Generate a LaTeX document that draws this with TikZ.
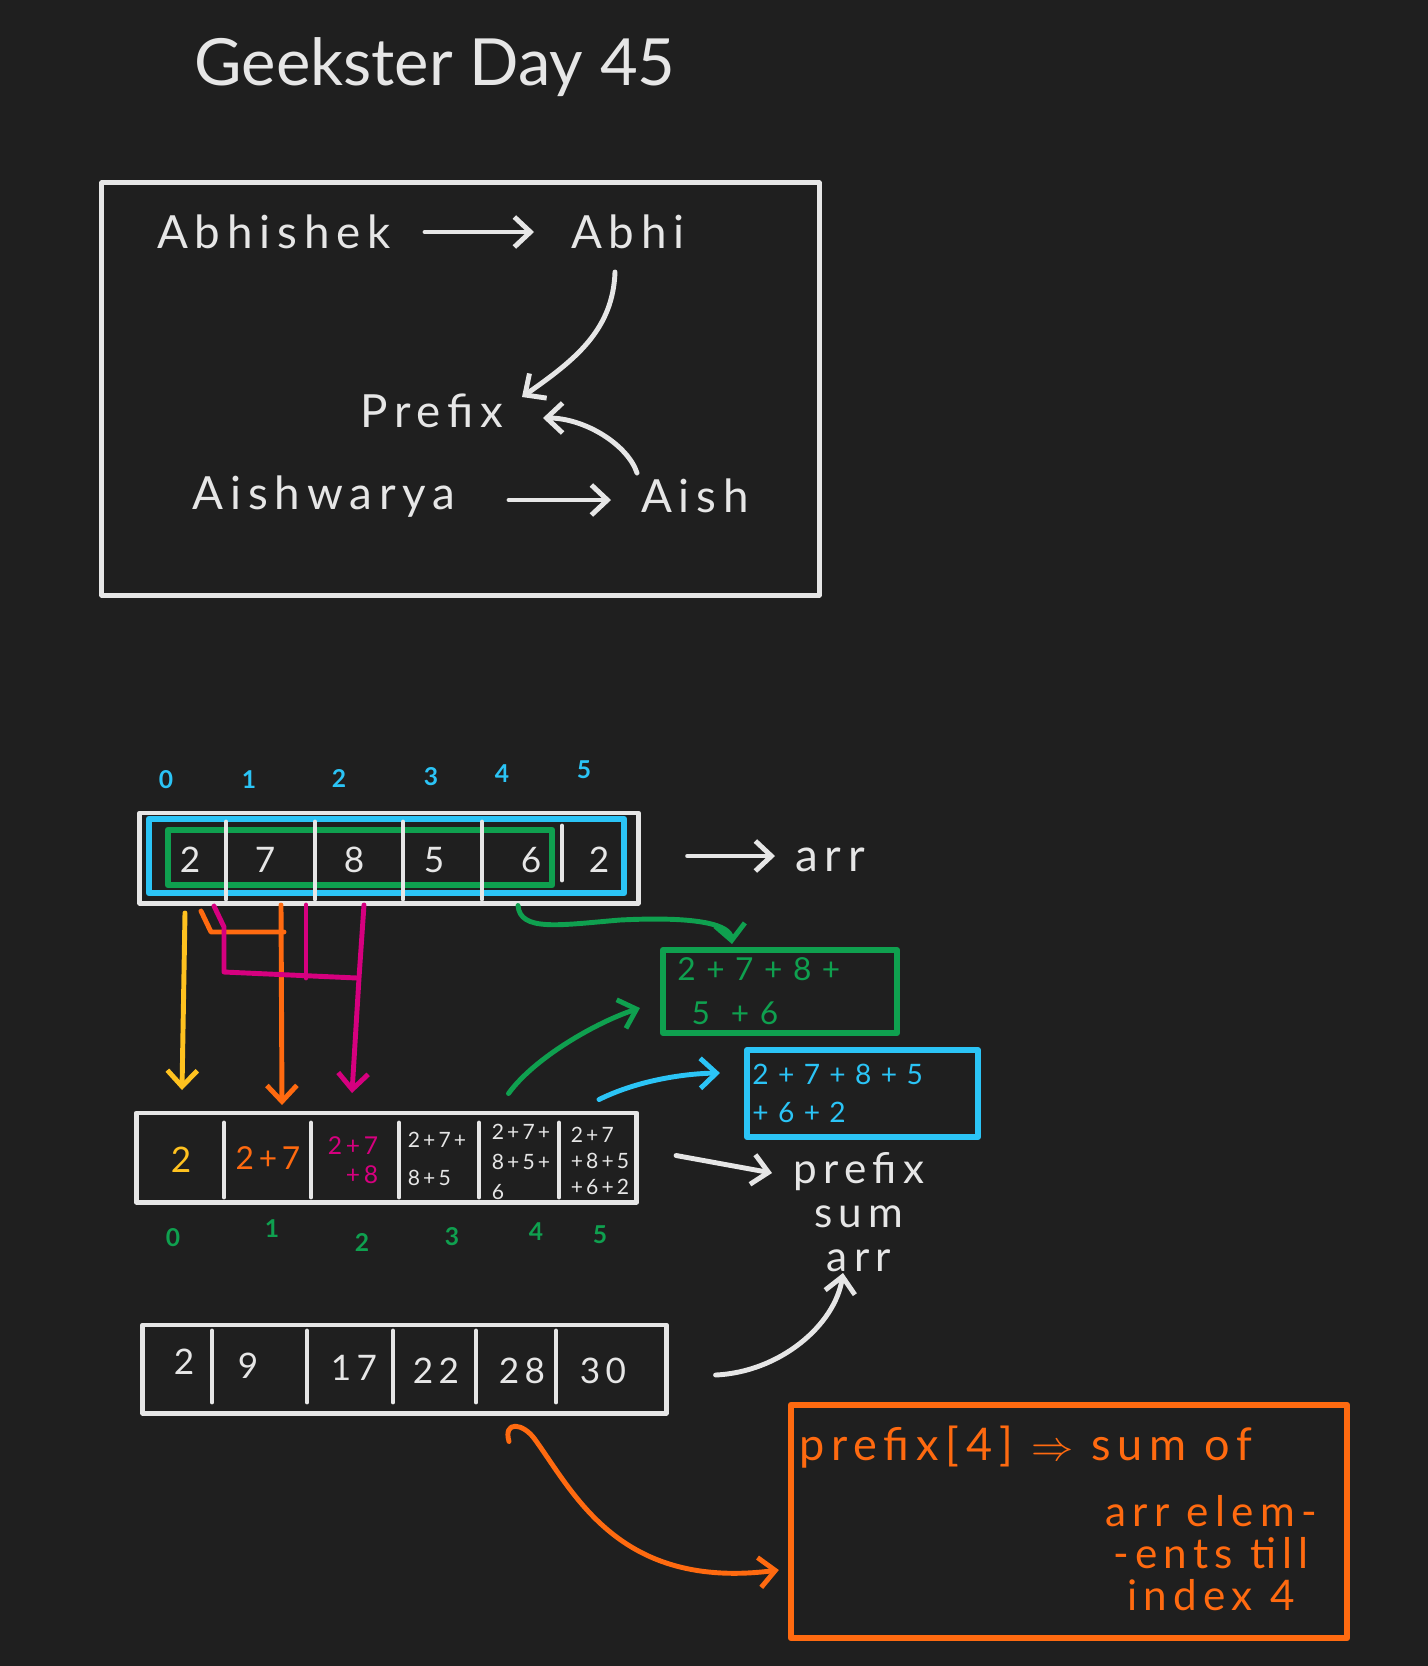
\documentclass[tikz,border=0pt]{standalone}
\usepackage{fontspec}
\setmainfont{Lato}
\newfontfamily\handfont[LetterSpace=15]{Lato}
\usetikzlibrary{arrows.meta,calc}
\definecolor{board}{HTML}{1F1F1F}
\definecolor{chalk}{HTML}{E6E6E6}
\definecolor{sky}{HTML}{2BC4F6}
\definecolor{leaf}{HTML}{0FA04F}
\definecolor{sun}{HTML}{FFC21F}
\definecolor{ember}{HTML}{FF6A10}
\definecolor{berry}{HTML}{D6007F}
\newcommand{\scribble}[2]{\handfont\fontsize{#1}{#2}\selectfont}

\begin{document}
\begin{tikzpicture}[x=0.01cm, y=-0.01cm, line join=round, line cap=round, line width=1.4pt, color=chalk,
	hand/.style={font=\scribble{13}{15}, inner sep=0pt, anchor=base},
	digit/.style={font=\scribble{10}{12}},
	idx/.style={font=\scribble{7}{8}\bfseries},
	small/.style={font=\scribble{6}{#1}, align=left, inner sep=0pt},
	tip/.style={-{Straight Barb[length=1.6mm,width=3mm]}}]
	\fill[board] (0,0) rectangle (1428,1666);
	\useasboundingbox (0,0) rectangle (1428,1666);

	\node[font=\fontsize{18.5}{22}\selectfont, anchor=base] (title) at (435,85) {Geekster Day 45};

	\node[draw, minimum width=7.17cm, minimum height=4.12cm] (names) at (460.5,389) {};
	\node[hand] (abhishek) at (274,248) {Abhishek};
	\node[hand] (abhi) at (628,248) {Abhi};
	\node[hand] (prefix) at (432,427) {Prefix};
	\node[hand] (aishwarya) at (324,509) {Aishwarya};
	\node[hand] (aish) at (695,512) {Aish};
	\draw[tip] ($(abhishek.base)+(151,-16)$) -- ($(abhi.base)+(-94,-16)$);
	\draw[tip] ($(aishwarya.base)+(185,-9)$) -- ($(aish.base)+(-84,-12)$);
	\draw[tip] ($(abhi.base)+(-13,24)$) .. controls ($(abhi.base)+(-15,82)$) and ($(prefix.base)+(143,-67)$) .. ($(prefix.base)+(90,-30)$);
	\draw[tip] ($(aish.base)+(-58,-39)$) .. controls ($(aish.base)+(-67,-67)$) and ($(prefix.base)+(153,-9)$) .. ($(prefix.base)+(111,-9)$);

	\node[draw, minimum width=4.98cm, minimum height=0.90cm] (arr) at (389,858) {};
	\node[draw=sky, line width=1.8pt, minimum width=4.75cm, minimum height=0.74cm] (arrall) at (386.5,856) {};
	\node[draw=leaf, line width=1.8pt, minimum width=3.84cm, minimum height=0.55cm] (arrfive) at (360,857.5) {};
	\foreach \x in {226,315,403,482}
	\draw (\x,822) -- (\x,899);
	\draw (562,826) -- (562,880);
	\foreach \v/\x [count=\k from 0] in {2/190,7/265,8/354,5/434,6/531,2/599}
	\node[digit] (a\k) at (\x,860) {\v};
	\foreach \x/\y [count=\k from 0] in {166/780,249/780,339/778,431/777,502/774,584/770}
	\node[idx, sky] (i\k) at (\x,\y) {\k};
	\node[hand] (arrlabel) at (830,871) {arr};
	\draw[tip] ($(arr.east)+(47,-2)$) -- ($(arrlabel.base)+(-55,-15)$);

	\node[draw=leaf, text=leaf, line width=1.7pt, inner xsep=2pt, inner ysep=0pt, minimum width=2.34cm, minimum height=0.83cm, text width=2.05cm, align=left, font=\scribble{9}{12.5}] (sumfive) at (780,991.5) {2 + 7 + 8 +\\\hspace{4pt}5 \ + 6};
	\node[draw=sky, text=sky, line width=1.7pt, inner xsep=1pt, inner ysep=0pt, minimum width=2.31cm, minimum height=0.87cm, text width=2.2cm, align=left, font=\scribble{8}{11}] (sumall) at (862.5,1093.5) {2 + 7 + 8 + 5\\+ 6 + 2};

	\node[draw, minimum width=5.00cm, minimum height=0.89cm] (psum) at (386.5,1157.5) {};
	\foreach \x in {224,311,399,479,559}
	\draw (\x,1123) -- (\x,1197);
	\node[font=\scribble{10}{12}, sun] (p0) at (181,1160) {2};
	\node[font=\scribble{9}{12}, ember] (p1) at (268,1158) {2+7};
	\node[font=\scribble{7}{8.3}, berry, align=right, inner sep=0pt] (p2) at (353,1160) {2+7\\+8};
	\node[small=10.8] (p3) at (437,1159) {2+7+\\8+5};
	\node[small=8.5] (p4) at (521,1162) {2+7+\\8+5+\\6};
	\node[small=7.3] (p5) at (600,1161) {2+7\\+8+5\\+6+2};
	\foreach \x/\y [count=\k from 0] in {173/1238,272/1229,362/1242,452/1237,536/1232,600/1235}
	\node[idx, leaf] (g\k) at (\x,\y) {\k};

	\draw[sun, tip] ($(a0)+(-5,53)$) -- ($(p0)+(1,-70)$);
	\draw[ember] ($(a0)+(11,51)$) -- ($(a0)+(21,72)$) -- ($(a1)+(19,72)$);
	\draw[ember, tip] ($(a1)+(16,45)$) -- ($(p1)+(14,-53)$);
	\draw[berry] ($(a0)+(24,46)$) -- ($(a0)+(34,67)$) -- ($(a0)+(34,112)$) -- ($(a2)+(3,118)$);
	\draw[berry] ($(a1)+(41,45)$) -- ($(a1)+(41,118)$);
	\draw[berry, tip] ($(a2)+(10,45)$) -- ($(a2)+(5,118)$) -- ($(p2)+(-1,-67)$);

	\draw[leaf, tip] ($(arr.south)+(129,0)$) .. controls (520,932) and (560,925) .. (620,920) .. controls (700,916) and (730,925) .. ($(sumfive.north)+(-48,-3)$);
	\draw[leaf, tip] ($(psum.north)+(122,-17)$) .. controls ($(psum.north)+(148,-53)$) and ($(sumfive.west)+(-63,30.5)$) .. ($(sumfive.west)+(-20,16.5)$);
	\draw[sky, tip] ($(psum.north)+(212.5,-11)$) .. controls ($(psum.north)+(253,-31)$) and ($(sumall.west)+(-57,-20)$) .. ($(sumall.west)+(-24,-20.5)$);

	\node[font=\scribble{12}{12.5}, align=center] (psumlabel) at (859,1212) {prefix\\sum\\arr};
	\draw[tip] ($(psum.east)+(37,-2)$) -- ($(psumlabel)+(-87,-39)$);

	\node[draw, minimum width=5.23cm, minimum height=0.88cm] (fin) at (404.5,1369) {};
	\foreach \x in {212,307,393,476,556}
	\draw (\x,1331) -- (\x,1402);
	\foreach \v/\x/\y [count=\k from 0] in {2/184/1362,9/248/1366,17/354/1368,22/436/1371,28/522/1371,30/603/1371}
	\node[digit] (f\k) at (\x,\y) {\v};
	\draw[tip] ($(fin.east)+(47,6)$) .. controls (780,1372) and (835,1325) .. ($(psumlabel)+(-16,61)$);

	\node[draw=ember, line width=1.7pt, minimum width=5.56cm, minimum height=2.33cm] (note) at (1069,1521.5) {};
	\node[font=\scribble{12.8}{12}, ember, anchor=base west, inner sep=0pt] (notehead) at (797,1460) {prefix[4] $\Rightarrow$ sum of};
	\node[font=\scribble{12}{12}, ember, align=center] (notebody) at (1211,1553) {arr elem-\\-ents till\\index 4};
	\draw[ember, tip] ($(fin.south)+(104.5,26)$) .. controls ($(fin.south)+(98.5,5)$) and ($(fin.south)+(118.5,7)$) .. ($(fin.south)+(130.5,24)$) .. controls (575,1495) and (620,1590) .. ($(note.west)+(-9,48.5)$);
\end{tikzpicture}
\end{document}
